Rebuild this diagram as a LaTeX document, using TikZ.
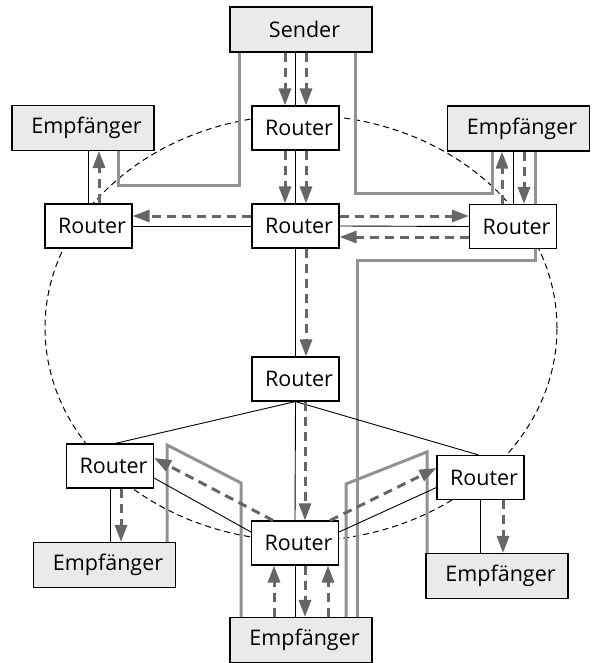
\documentclass[tikz,border=0pt]{standalone}
\usepackage{fontspec}
\setmainfont{Open Sans}
\usetikzlibrary{arrows.meta}
\definecolor{pipegray}{HTML}{929292}
\definecolor{arrgray}{HTML}{666666}
\definecolor{boxgray}{HTML}{EAEAEA}
\begin{document}
\begin{tikzpicture}[x=1pt,y=-1pt,
  box/.style={draw=black,line width=1.1pt,inner sep=0pt,
    font=\fontsize{21.5}{26}\selectfont,execute at begin node={\hspace*{7pt}}},
  router/.style={box,fill=white,minimum width=87pt,minimum height=44pt},
  recv/.style={box,fill=boxgray,minimum width=142pt,minimum height=45pt},
  link/.style={draw=black,line width=0.9pt},
  pipe/.style={draw=pipegray,line width=3pt},
  ell/.style={draw=black,line width=1pt,dash pattern=on 6pt off 4pt},
  arr/.style={draw=arrgray,line width=3pt,dash pattern=on 9pt off 6pt,
    -{Triangle[length=17pt,width=12pt,fill=arrgray]}}
]
\useasboundingbox (0,0) rectangle (593,663);
% ring
\draw[ell] (301,328) ellipse [x radius=256pt, y radius=213pt];
% named nodes (for anchors)
\path (301,29.5) node[recv] (S) {Sender}
      (295.5,128) node[router] (R1) {Router}
      (83,128) node[recv] (E1) {Empfänger}
      (88.5,226) node[router] (R2) {Router}
      (295.5,226) node[router] (R3) {Router}
      (518.5,128.5) node[recv] (E2) {Empfänger}
      (513,226.5) node[router] (R4) {Router}
      (295.5,379) node[router] (R5) {Router}
      (110,466) node[router] (R6) {Router}
      (104.5,565) node[recv] (E3) {Empfänger}
      (295,543) node[router] (R7) {Router}
      (301,640) node[recv] (E4) {Empfänger}
      (480.5,477.5) node[router] (R8) {Router}
      (497,576) node[recv] (E5) {Empfänger};
% gray pipes
\draw[pipe] ([xshift=-62pt]S.south) -- ++(0,133) -| ([xshift=35pt]E1.south);
\draw[pipe] ([xshift=54pt]S.south) -- ++(0,141) -| ([xshift=-26.5pt]E2.south);
\draw[pipe] ([xshift=16.5pt]E2.south) -- ++(0,109) -| ([xshift=56pt]E4.north);
\draw[pipe] ([xshift=62.5pt]E3.north) -- ++(0,-97) -- ++(74,38) -- ([xshift=-60pt]E4.north);
\draw[pipe] ([xshift=45pt]E4.north) -- ++(0,-133) -- ++(81,-32) -- ([xshift=-70pt]E5.north);
% boxes again on top of pipes
\path (301,29.5) node[recv] {Sender}
      (295.5,128) node[router] {Router}
      (83,128) node[recv] {Empfänger}
      (88.5,226) node[router] {Router}
      (295.5,226) node[router] {Router}
      (518.5,128.5) node[recv] {Empfänger}
      (513,226.5) node[router] {Router}
      (295.5,379) node[router] {Router}
      (110,466) node[router] {Router}
      (104.5,565) node[recv] {Empfänger}
      (295,543) node[router] {Router}
      (301,640) node[recv] {Empfänger}
      (480.5,477.5) node[router] {Router}
      (497,576) node[recv] {Empfänger};
% black links
\draw[link] (R1.north |- S.south) -- (R1.north);
\draw[link] (R1.south) -- (R3.north);
\draw[link] (R3.south) -- (R5.north);
\draw[link] (R5.south) -- (R7.north);
\draw[link] (R7.south) -- (R7.south |- E4.north);
\draw[link] (R2.north) -- (R2.north |- E1.south);
\draw[link] (R2.east) -- (R3.west);
\draw[link] (R3.east) -- (R4.west);
\draw[link] (R4.north) -- (R4.north |- E2.south);
\draw[link] (R5.south) -- ([xshift=5pt]R6.north);
\draw[link] (R5.south) -- ([xshift=-2pt]R8.north);
\draw[link] ([yshift=-12pt]R6.east) -- ([yshift=11pt]R7.west);
\draw[link] ([yshift=11pt]R7.east) -- ([yshift=-10pt]R8.west);
\draw[link] (R6.south) -- (R6.south |- E3.north);
\draw[link] (R8.south) -- (R8.south |- E5.north);
% dashed gray arrows
\draw[arr] ([xshift=-16pt]S.south) -- ([xshift=-10.5pt]R1.north);
\draw[arr] ([xshift=5pt]S.south) -- ([xshift=10.5pt]R1.north);
\draw[arr] ([xshift=-10.5pt]R1.south) -- ([xshift=-10.5pt]R3.north);
\draw[arr] ([xshift=10.5pt]R1.south) -- ([xshift=10.5pt]R3.north);
\draw[arr] ([yshift=10pt]R3.west) -- ([yshift=10pt]R2.east);
\draw[arr] ([yshift=10pt]R3.east) -- ([yshift=10.5pt]R4.west);
\draw[arr] ([yshift=-10.5pt]R4.west) -- ([yshift=-11pt]R3.east);
\draw[arr] ([xshift=10.5pt]R2.north) -- ([xshift=16pt]E1.south);
\draw[arr] ([xshift=-11pt]R4.north) -- ([xshift=-16.5pt]E2.south);
\draw[arr] ([xshift=5.5pt]E2.south) -- ([xshift=11pt]R4.north);
\draw[arr] ([xshift=10.5pt]R3.south) -- ([xshift=10.5pt]R5.north);
\draw[arr] ([xshift=9.5pt]R5.south) -- ([xshift=10pt]R7.north);
\draw[arr] ([xshift=10pt]R7.south) -- ([xshift=4pt]E4.north);
\draw[arr] ([xshift=-27pt]E4.north) -- ([xshift=-21pt]R7.south);
\draw[arr] ([xshift=27pt]E4.north) -- ([xshift=33pt]R7.south);
\draw[arr] ([xshift=11pt]R6.south) -- ([xshift=16.5pt]E3.north);
\draw[arr] ([xshift=22.5pt]R8.south) -- ([xshift=6pt]E5.north);
\draw[arr] ([xshift=-22pt]R7.north) -- ([yshift=8pt]R6.east);
\draw[arr] ([xshift=35pt]R7.north) -- ([yshift=9.5pt]R8.west);
\end{tikzpicture}
\end{document}
